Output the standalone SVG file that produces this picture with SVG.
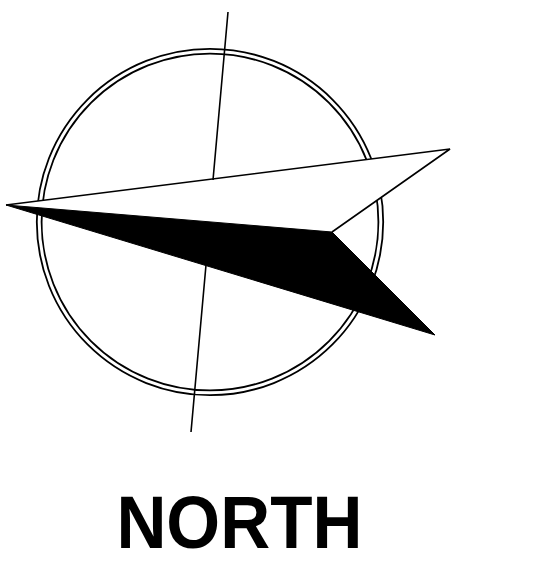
<svg xmlns="http://www.w3.org/2000/svg" width="540" height="573" viewBox="0 0 540 573">
<style>.c{fill:none;stroke:#000;stroke-width:1.8}</style>
<rect width="540" height="573" fill="#fff"/>
<g id="compass-circle"><circle class="c" cx="210" cy="222" r="173.2"/><circle class="c" cx="210" cy="222" r="168.4"/></g>
<g id="needle">
<path d="M6 205L450 149L332 232" fill="#fff" stroke="#000" stroke-width="1.6"/>
<path d="M228 12L213 180M206 265L191 432" fill="none" stroke="#000" stroke-width="1.6"/>
<path d="M6 205L332 232L435 335Z" fill="#000" stroke="#000"/>
</g>
<text x="116.400" y="548.300" font-family="Liberation Sans, Arial, sans-serif" font-weight="700" font-size="73.500" textLength="246" lengthAdjust="spacingAndGlyphs">NORTH</text>
</svg>
